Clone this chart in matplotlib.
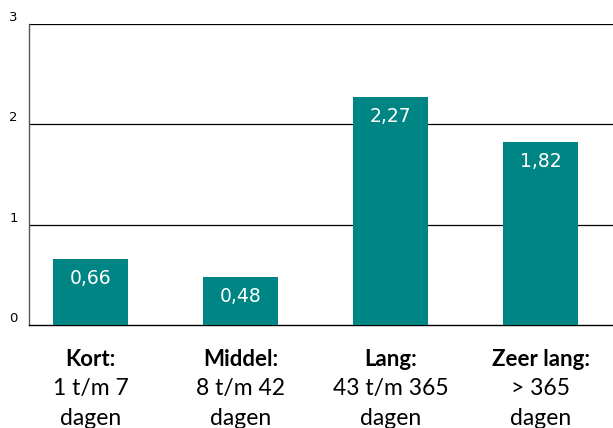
import matplotlib.pyplot as plt
import matplotlib.transforms as mtransforms

# data
categories = ["Kort:", "Middel:", "Lang:", "Zeer lang:"]
ranges = ["1 t/m 7", "8 t/m 42", "43 t/m 365", "> 365"]
values = [0.66, 0.48, 2.27, 1.82]
value_labels = ["0,66", "0,48", "2,27", "1,82"]
yticks = [0, 1, 2, 3]

teal = "#008585"
plt.rcParams['font.family'] = ['Lato', 'DejaVu Sans']

fig = plt.figure(figsize=(6.13, 4.28), dpi=100)
ax = fig.add_axes([29 / 613, 103 / 428, 1 - 29 / 613, 301 / 428])

x = list(range(len(values)))
ax.bar(x, values, width=0.5, color=teal, zorder=3)

ax.set_xlim(-0.41, 3.48)
ax.set_ylim(0, 3)

# gridlines
for t in yticks[1:]:
    ax.axhline(t, color="black", lw=0.9, zorder=1)

ax.set_yticks(yticks)
ax.set_yticklabels([str(t) for t in yticks], fontsize=9.5, family="DejaVu Sans")
for lbl in ax.get_yticklabels():
    lbl.set_va("bottom")
ax.tick_params(axis="y", length=0, pad=8)
ax.set_xticks([])

for s in ["top", "right"]:
    ax.spines[s].set_visible(False)
ax.spines["left"].set_color("#555555")
ax.spines["left"].set_linewidth(1.0)
ax.spines["bottom"].set_color("black")
ax.spines["bottom"].set_linewidth(1.0)

# value labels inside bars
for xi, v, lab in zip(x, values, value_labels):
    ax.annotate(lab, (xi, v), xytext=(0, -14), textcoords="offset points",
                ha="center", va="center", color="white", fontsize=13.5,
                family="DejaVu Sans", zorder=4)

# category labels below
trans = mtransforms.blended_transform_factory(ax.transData, fig.transFigure)
for xi, cat, rng in zip(x, categories, ranges):
    ax.text(xi, 1 - 366 / 428, cat, transform=trans, ha="center", va="baseline",
            fontsize=16, fontweight="bold")
    ax.text(xi, 1 - 395 / 428, rng, transform=trans, ha="center", va="baseline",
            fontsize=16.5)
    ax.text(xi, 1 - 425 / 428, "dagen", transform=trans, ha="center", va="baseline",
            fontsize=16.5)

fig.savefig("out.png", dpi=100)
